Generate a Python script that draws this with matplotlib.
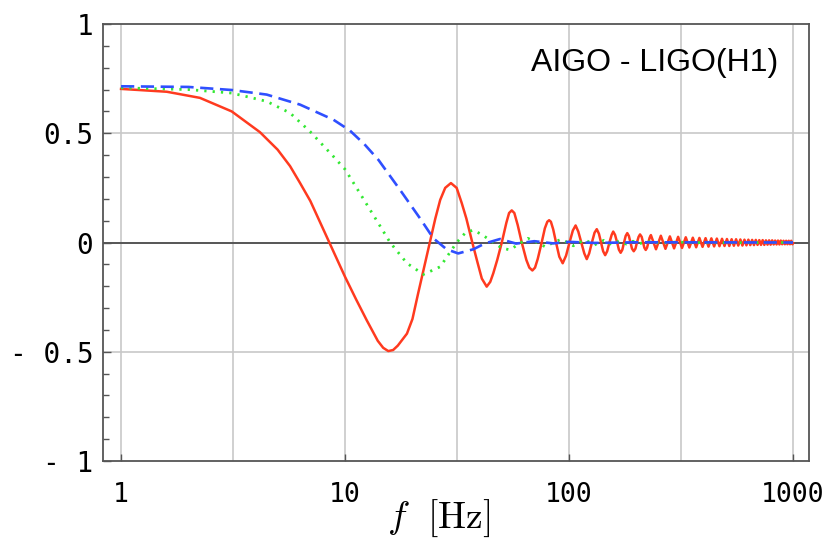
import matplotlib
matplotlib.use("Agg")
import matplotlib.pyplot as plt
from matplotlib.ticker import FixedLocator, NullFormatter

# values (f in Hz, overlap value)
red_f = [1.0, 1.6, 2.25, 3.12, 4.17, 5.0, 5.68, 6.3, 7.0, 7.6, 8.5, 10.0, 11.2, 12.5, 14.0, 14.8,
         15.6, 16.4, 17.2, 18.9, 20.0, 21.2, 23.9, 25.3, 26.6, 28.0, 29.7, 31.5, 33.2, 34.8,
         37.0, 39.0, 40.8, 42.9, 44.5, 45.9, 47.8, 50.1, 52.5, 54.0, 55.5, 57.0, 59.0, 61.5,
         64.5, 66.5, 68.6, 70.5, 72.5, 75.5, 78.0, 80.0, 81.5, 83.0, 85.0, 87.5, 90.5, 93.7,
         97.0, 100.5, 104.0, 107.0, 110.0, 113.5, 117.0, 120.0, 123.0, 126.5, 130.0, 133.0,
         136.0, 139.0, 142.0, 145.0, 148.0, 151.5, 155.0, 157.5, 160.5, 164.0, 167.0, 170.0,
         173.0, 176.0, 179.0, 182.0, 185.0, 188.0, 191.0, 194.5, 198.0, 201.0, 204.5, 207.5,
         211.0, 214.0, 217.0, 220.0, 223.0, 226.0, 229.0, 232.0, 244.5, 257.0, 269.5, 282.0,
         294.5, 307.0, 319.5, 332.0, 344.5, 357.0, 369.5, 382.0, 394.5, 407.0, 419.5, 432.0,
         444.5, 457.0, 469.5, 482.0, 494.5, 507.0, 519.5, 532.0, 544.5, 557.0, 569.5, 582.0,
         594.5, 607.0, 619.5, 632.0, 644.5, 657.0, 669.5, 682.0, 694.5, 707.0, 719.5, 732.0,
         744.5, 757.0, 769.5, 782.0, 794.5, 807.0, 819.5, 832.0, 844.5, 857.0, 869.5, 882.0,
         894.5, 907.0, 919.5, 932.0, 944.5, 957.0, 969.5, 982.0, 994.5, 1000.0]
red_y = [0.703, 0.690, 0.662, 0.600, 0.505, 0.425, 0.350, 0.272, 0.19, 0.11, 0.0, -0.157, -0.26,
         -0.356, -0.45, -0.482, -0.497, -0.492, -0.472, -0.417, -0.35, -0.233, 0.0, 0.11, 0.195,
         0.25, 0.272, 0.25, 0.18, 0.11, 0.0, -0.09, -0.165, -0.202, -0.18, -0.141, -0.08, 0.0,
         0.09, 0.135, 0.147, 0.135, 0.08, 0.0, -0.08, -0.115, -0.128, -0.115, -0.075, 0.0,
         0.065, 0.095, 0.102, 0.095, 0.06, 0.0, -0.065, -0.095, -0.06, 0.0, 0.055, 0.078, 0.05,
         0.0, -0.05, -0.076, -0.05, 0.0, 0.045, 0.061, 0.04, 0.0, -0.04, -0.058, -0.04, 0.0,
         0.035, 0.05, 0.035, 0.0, -0.033, -0.047, -0.033, 0.0, 0.03, 0.043, 0.03, 0.0, -0.028,
         -0.04, -0.028, 0.0, 0.026, 0.037, 0.026, 0.0, -0.024, -0.034, -0.024, 0.0, 0.022,
         0.034, -0.031, 0.031, -0.029, 0.028, -0.027, 0.026, -0.025, 0.024, -0.023, 0.022,
         -0.022, 0.021, -0.020, 0.020, -0.019, 0.019, -0.018, 0.018, -0.017, 0.017, -0.016,
         0.016, -0.016, 0.015, -0.015, 0.015, -0.014, 0.014, -0.014, 0.013, -0.013, 0.013,
         -0.012, 0.012, -0.012, 0.012, -0.011, 0.011, -0.011, 0.011, -0.011, 0.010, -0.010,
         0.010, -0.010, 0.010, -0.009, 0.009, -0.009, 0.009, -0.009, 0.009, -0.008, 0.008,
         -0.008, 0.008, -0.008, 0.008, -0.008, 0.008, -0.008, -0.003]

green_f = [1.0, 2.0, 3.12, 4.47, 5.68, 6.98, 8.87, 10.0, 11.5, 13.8, 15.9, 18.9, 22.4, 26.6,
           31.5, 34.5, 37.4, 41.0, 46.0, 50.0, 54.5, 59.0, 65.5, 72.0, 78.5, 85.0, 92.5, 98.5,
           104.5, 111.0, 118.0, 124.0, 130.0, 143.0, 155.0, 168.0, 180.0, 193.0, 205.0, 230.0,
           255.0, 300.0, 400.0, 1000.0]
green_y = [0.708, 0.700, 0.684, 0.646, 0.593, 0.508, 0.394, 0.335, 0.235, 0.103, 0.0, -0.095,
           -0.146, -0.111, 0.0, 0.045, 0.057, 0.035, 0.0, -0.025, -0.034, -0.01, 0.019, 0.0,
           -0.02, 0.0, 0.015, 0.0, -0.015, 0.0, 0.012, 0.0, -0.011, 0.01, -0.009, 0.008, -0.007,
           0.006, -0.005, 0.004, -0.003, 0.002, -0.001, 0.0]

blue_f = [1.0, 2.0, 3.12, 4.47, 6.3, 8.87, 10.5, 12.2, 14.1, 17.6, 21.6, 24.8, 28.4, 32.0,
          37.4, 42.2, 49.2, 58.0, 70.0, 85.0, 100.0, 130.0, 200.0, 1000.0]
blue_y = [0.715, 0.712, 0.698, 0.677, 0.631, 0.562, 0.513, 0.45, 0.378, 0.241, 0.111, 0.019,
          -0.031, -0.05, -0.031, -0.004, 0.016, -0.005, 0.006, -0.004, 0.003, -0.002, 0.001, 0.0]

y_ticks = [-1, -0.5, 0, 0.5, 1]
y_labels = ["- 1", "- 0.5", "0", "0.5", "1"]
x_ticks = [1, 10, 100, 1000]
x_labels = ["1", "10", "100", "1000"]
x_grid = [1, 3.162, 10, 31.62, 100, 316.2, 1000]


def overlap_plot():
    mono = "DejaVu Sans Mono"
    plt.rcParams["mathtext.fontset"] = "cm"
    fig = plt.figure(figsize=(8.35, 5.41), dpi=100)
    ax = fig.add_axes([0.1234, 0.1479, 0.8455, 0.8077])

    ax.set_xscale("log")
    ax.set_xlim(0.831, 1179)
    ax.set_ylim(-1, 1)

    for g in x_grid:
        ax.axvline(g, color="#c8c8c8", lw=1.2, zorder=0)
    for g in [-0.5, 0.5]:
        ax.axhline(g, color="#c8c8c8", lw=1.2, zorder=0)
    ax.axhline(0, color="#555555", lw=1.4, zorder=1)

    ax.plot(red_f, red_y, color="#ff3a1f", lw=1.8, zorder=3)
    ax.plot(green_f, green_y, color="#33e833", lw=2.0, ls=(0, (0.8, 2.2)), zorder=4)
    ax.plot(blue_f, blue_y, color="#2f4fff", lw=1.9, ls=(0, (5, 2.5)), zorder=5)

    ax.xaxis.set_major_locator(FixedLocator(x_ticks))
    ax.xaxis.set_minor_locator(FixedLocator([]))
    ax.xaxis.set_minor_formatter(NullFormatter())
    ax.set_xticklabels(x_labels, family=mono, fontsize=19)
    ax.set_yticks(y_ticks)
    ax.set_yticklabels(y_labels, family=mono, fontsize=20)
    ax.yaxis.set_minor_locator(FixedLocator([i / 10 for i in range(-10, 11) if i % 5]))
    ax.tick_params(axis="y", which="major", direction="in", length=6, width=1, color="#555555", pad=7)
    ax.tick_params(axis="y", which="minor", direction="in", length=4, width=1, color="#555555")
    ax.tick_params(axis="x", which="major", direction="in", length=5, width=1, color="#555555", pad=15)

    for s in ax.spines.values():
        s.set_color("#555555")
        s.set_linewidth(1.3)

    ax.text(0.956, 0.91, "AIGO - LIGO(H1)", transform=ax.transAxes, ha="right", va="center",
            family="Liberation Sans", fontsize=23)

    ax.set_xlabel(r"$f\ \ [\mathrm{Hz}]$", fontsize=27)
    ax.xaxis.set_label_coords(0.475, -0.085)

    fig.savefig("out.png", dpi=100)


if __name__ == "__main__":
    overlap_plot()
